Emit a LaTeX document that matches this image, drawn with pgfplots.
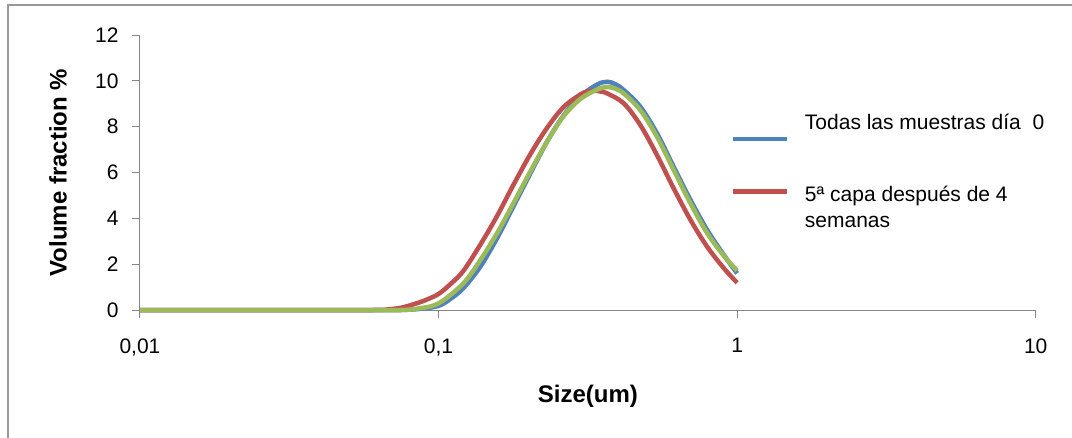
\documentclass[border=0pt]{standalone}
\usepackage{pgfplots}
\pgfplotsset{compat=1.18}
\usepackage{fontspec}
\setmainfont{Liberation Sans}
\definecolor{xlblue}{HTML}{4F81BD}
\definecolor{xlred}{HTML}{C0504D}
\definecolor{xlgreen}{HTML}{9BBB59}
\definecolor{axgray}{HTML}{868686}
\pgfplotsset{
  legdown/.style={legend image code/.code={\draw[##1] (0pt,-16pt) -- (54pt,-16pt);}},
  legup/.style={legend image code/.code={\draw[##1] (0pt,16pt) -- (54pt,16pt);}},
}
\begin{document}
\begin{tikzpicture}[x=1pt,y=1pt]
\useasboundingbox (0,0) rectangle (1072,437);
\fill[white] (0,0) rectangle (1072,437);
\draw[axgray!85, line width=2pt] (8,-20) -- (8,432) -- (1100,432);
\begin{axis}[
  at={(140pt,127pt)}, anchor=south west,
  scale only axis, width=895.7pt, height=275pt,
  xmode=log, xmin=0.01, xmax=10, ymin=0, ymax=12,
  xtick={0.01,0.1,1,10}, xticklabels={{0,01},{0,1},1,10},
  ytick={0,2,...,12},
  xminorticks=false, yminorticks=false,
  axis lines*=left,
  axis line style={axgray, line width=1pt},
  tick style={axgray, line width=1pt},
  major tick length=8pt, tick align=outside,
  /pgf/number format/assume math mode=true,
  ticklabel style={font=\fontsize{21}{25}\selectfont, text=black},
  xticklabel style={yshift=-17pt},
  yticklabel style={xshift=-10pt},
  xlabel={Size(um)},
  ylabel={Volume fraction \%},
  xlabel style={font=\bfseries\fontsize{24}{28}\selectfont, at={(axis description cs:0.5,-0.3127)}, anchor=center},
  ylabel style={font=\bfseries\fontsize{24}{28}\selectfont, at={(axis description cs:-0.0915,0.5)}, anchor=center},
  clip=false,
  legend style={at={(rel axis cs:0.659,0.7195)}, anchor=north west, draw=none, fill=none,
    font=\fontsize{21}{26}\selectfont, row sep=43pt, inner sep=0pt,
    cells={anchor=west, align=left},
    /tikz/every odd column/.append style={column sep=14pt}},
  every axis plot/.append style={line width=4.5pt, smooth, tension=0.55},
]
\addplot[xlblue, legdown] coordinates {
(0.01,0) (0.03,0) (0.06,0) (0.075,0) (0.087,0.05) (0.1,0.18) (0.11,0.5) (0.121,0.95) (0.138,1.89)
(0.157,3.13) (0.178,4.51) (0.203,5.96) (0.231,7.35) (0.262,8.48) (0.298,9.32)
(0.340,9.84) (0.367,9.96) (0.39,9.86) (0.417,9.6) (0.474,8.87) (0.539,7.71) (0.613,6.25)
(0.698,4.8) (0.794,3.49) (0.903,2.40) (1.0,1.6)};
\addlegendentry{Todas las muestras día\ \ 0}
\addplot[xlred, legup] coordinates {
(0.01,0) (0.03,0) (0.06,0) (0.068,0.03) (0.075,0.1) (0.0825,0.25) (0.09,0.42) (0.1,0.7) (0.11,1.15)
(0.121,1.7) (0.138,2.85) (0.157,4.1) (0.178,5.45) (0.203,6.8) (0.231,7.95) (0.262,8.85) (0.298,9.4)
(0.315,9.53) (0.333,9.57) (0.35,9.53) (0.367,9.45) (0.417,9.02) (0.474,8.07) (0.539,6.76) (0.613,5.31)
(0.698,3.93) (0.794,2.76) (0.903,1.82) (1.0,1.19)};
\addlegendentry{5ª capa después de 4\\semanas}
\addplot[xlgreen, forget plot] coordinates {
(0.01,0) (0.03,0) (0.06,0) (0.075,0) (0.085,0.06) (0.1,0.29) (0.121,1.16) (0.138,2.18)
(0.157,3.35) (0.178,4.65) (0.203,6.05) (0.231,7.35) (0.262,8.45) (0.298,9.2)
(0.340,9.62) (0.367,9.73) (0.39,9.66) (0.417,9.45) (0.474,8.72) (0.539,7.56) (0.613,6.11)
(0.698,4.65) (0.794,3.35) (0.903,2.36) (1.0,1.72)};
\end{axis}
\end{tikzpicture}
\end{document}
